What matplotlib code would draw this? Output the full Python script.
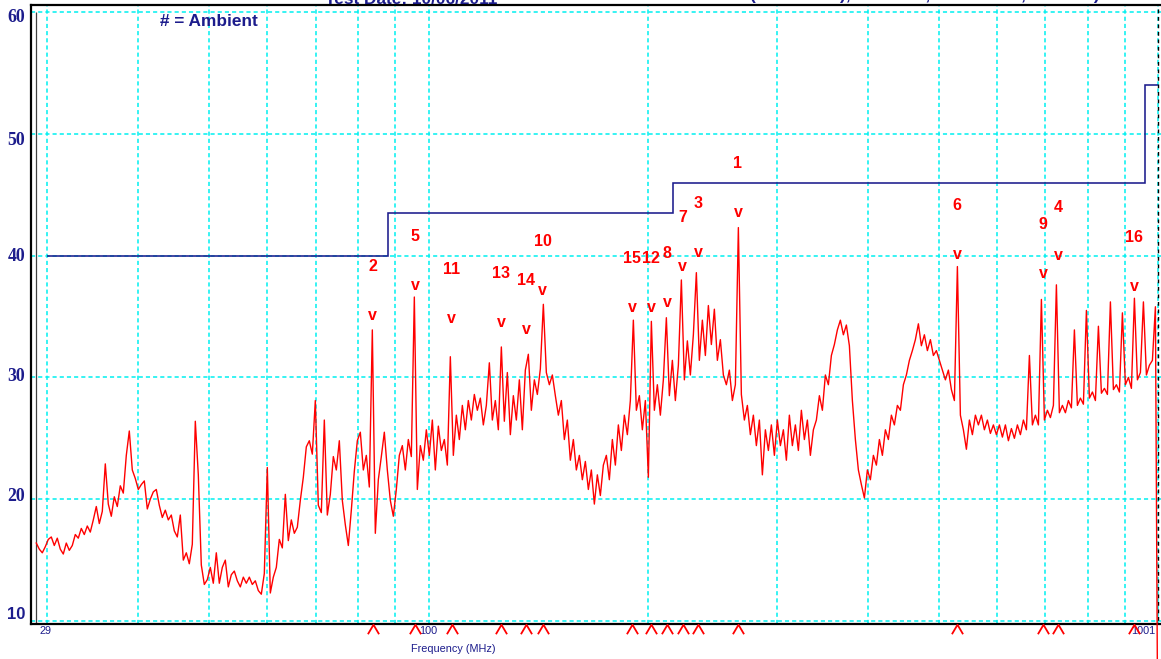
import numpy as np
import matplotlib
matplotlib.use("Agg")
import matplotlib.pyplot as plt
from matplotlib.path import Path
from matplotlib.transforms import ScaledTranslation, blended_transform_factory

# ---------------- data ----------------
# measured emission level (dBuV/m) on the receiver sweep, 29 MHz .. 1000 MHz
trace_db = [
    16.4, 15.9, 15.6, 16.1, 16.7, 16.9, 16.2, 16.8, 15.9, 15.5,
    16.4, 15.8, 16.2, 17.1, 16.8, 17.6, 17.1, 17.8, 17.3, 18.3,
    19.4, 18.0, 19.0, 22.9, 19.6, 18.6, 20.2, 19.4, 21.1, 20.5,
    23.6, 25.6, 22.4, 21.7, 20.8, 21.2, 21.5, 19.2, 20.0, 20.6,
    20.8, 19.5, 18.5, 19.1, 18.3, 18.7, 17.4, 16.9, 18.7, 15.0,
    15.6, 14.7, 16.3, 26.4, 22.0, 14.6, 13.0, 13.4, 14.4, 13.1,
    15.6, 13.1, 14.4, 15.0, 12.8, 13.8, 14.1, 13.3, 12.8, 13.6,
    13.1, 13.6, 13.0, 13.3, 12.5, 12.2, 13.9, 22.6, 12.3, 13.6,
    14.4, 16.7, 16.0, 20.4, 16.6, 18.3, 17.2, 17.7, 19.9, 21.8,
    24.3, 24.8, 23.7, 28.1, 19.5, 18.9, 26.5, 18.7, 20.4, 23.5,
    22.4, 24.8, 19.9, 17.9, 16.2, 19.1, 22.3, 24.8, 25.5, 22.4,
    23.6, 21.0, 33.9, 17.2, 21.6, 23.5, 25.5, 22.4, 19.9, 18.6,
    20.8, 23.6, 24.4, 22.4, 24.9, 23.5, 36.6, 20.8, 24.4, 23.2,
    25.7, 23.6, 26.5, 22.4, 26.0, 24.0, 24.9, 22.8, 31.7, 23.6,
    26.9, 24.9, 27.7, 25.7, 28.1, 26.5, 28.6, 27.3, 28.3, 26.1,
    27.7, 31.2, 26.5, 28.1, 25.7, 32.5, 26.4, 30.4, 25.3, 28.5,
    26.5, 29.8, 25.7, 30.6, 31.9, 27.3, 29.8, 28.6, 30.7, 36.0,
    30.4, 29.4, 30.2, 28.5, 26.9, 28.1, 24.9, 26.5, 23.2, 24.9,
    22.4, 23.6, 21.6, 23.1, 20.8, 22.4, 19.6, 22.0, 20.3, 22.8,
    23.6, 21.6, 24.9, 22.8, 26.1, 24.0, 26.9, 25.3, 28.1, 34.7,
    27.3, 28.5, 25.7, 28.1, 21.8, 34.6, 27.3, 29.4, 26.9, 29.8,
    34.9, 28.5, 31.4, 28.1, 31.0, 38.0, 29.8, 33.0, 30.2, 33.5,
    38.6, 31.4, 34.7, 31.8, 35.9, 32.7, 35.6, 31.4, 33.1, 30.2,
    29.4, 30.6, 28.1, 29.4, 42.3, 28.6, 26.5, 27.7, 25.3, 26.9,
    24.4, 26.5, 22.0, 25.7, 24.0, 26.1, 23.6, 26.5, 24.4, 25.7,
    23.2, 26.9, 24.4, 26.1, 24.0, 27.3, 24.9, 26.5, 23.6, 25.7,
    26.5, 28.5, 27.3, 30.2, 29.4, 31.8, 32.7, 33.9, 34.7, 33.5,
    34.3, 32.6, 28.1, 24.9, 22.4, 21.2, 20.1, 22.4, 21.6, 23.6,
    22.8, 24.9, 23.6, 25.7, 24.9, 26.9, 26.1, 27.7, 27.3, 29.4,
    30.2, 31.4, 32.2, 33.1, 34.4, 32.6, 33.5, 32.2, 33.1, 31.8,
    32.2, 31.4, 30.6, 29.8, 30.6, 29.0, 28.1, 39.1, 26.9, 25.7,
    24.1, 26.5, 25.3, 26.9, 26.1, 26.9, 25.7, 26.5, 25.4, 26.1,
    25.3, 26.1, 25.1, 26.1, 24.8, 25.8, 25.0, 26.1, 25.3, 26.5,
    25.7, 31.8, 26.1, 26.9, 26.1, 36.4, 26.5, 27.3, 26.7, 27.7,
    37.6, 27.1, 27.7, 27.1, 28.1, 27.5, 33.9, 27.7, 28.3, 27.8,
    35.5, 28.3, 28.8, 28.1, 34.2, 28.7, 29.1, 28.6, 36.2, 29.0,
    29.4, 28.8, 35.3, 29.4, 30.0, 29.1, 36.5, 29.8, 30.4, 36.2,
    30.2, 31.0, 31.4, 35.8, -10.0,
]
sweep_start_mhz = 29.0
sweep_stop_mhz = 1000.0

# limit line: band edges (MHz) and limit level in each band (dBuV/m)
limit_edges = [30, 88, 216, 960, 1000]
limit_levels = [40, 43.5, 46, 54]

# peak markers
marker_ids = [1, 2, 3, 4, 5, 6, 7, 8, 9, 10, 11, 12, 13, 14, 15, 16]
marker_freqs = [265.4, 83.8, 233.9, 728.5, 95.8, 529.8, 222.9, 212.1,
                694.9, 143.4, 107.6, 201.7, 125.7, 136.0, 190.0, 927.0]
marker_levels = [43.2, 34.7, 39.9, 39.6, 37.2, 39.7, 38.7, 35.8,
                 38.2, 36.8, 34.5, 35.4, 34.1, 33.6, 35.4, 37.1]

# axis labelling
grid_freqs = [30, 40, 50, 60, 70, 80, 90, 100,
              200, 300, 400, 500, 600, 700, 800, 900, 1000]
y_ticks = [10, 20, 30, 40, 50, 60]
x_tick_labels = ["29", "100", "1001"]
x_tick_values = [29, 100, 1000]
x_label = "Frequency (MHz)"
legend_note = "# = Ambient"
header_left = "Test Date: 10/06/2011"
header_right = "(Horizontal), 3 Meters, Peak Scan, Class B)"

# ---------------- style ----------------
NAVY = "#1c1c8c"
RED = "#ff0000"
CYAN = "#00f0f0"

W, H = 1161, 659
fig = plt.figure(figsize=(W / 100, H / 100), dpi=100)
ax = fig.add_axes([31 / W, 1 - 624 / H, (W - 31) / W, (624 - 5) / H])
ax.set_xscale("log")
ax.set_xlim(28.52, 1008.2)
ax.set_ylim(9.754, 60.575)

# grid
ax.set_xticks(grid_freqs)
ax.set_xticklabels([])
ax.xaxis.set_minor_locator(matplotlib.ticker.NullLocator())
ax.tick_params(axis="x", length=0)
ax.set_yticks(y_ticks)
ax.set_yticklabels([str(v) for v in y_ticks])
ax.tick_params(axis="y", length=0, pad=4)
ax.grid(True, color=CYAN, lw=1.1, linestyle=(0, (2.7, 2.0)), zorder=0)
ax.set_axisbelow(True)

# frame
for side in ("left", "bottom", "top"):
    ax.spines[side].set_linewidth(1.6)
    ax.spines[side].set_color("black")
ax.spines["right"].set_visible(False)
ax.vlines(29, 9.754, 60, color="#404040", lw=0.9, zorder=2)
ax.vlines(1000, 9.754, 60.575, color="black", lw=1.0,
          linestyles=[(2.7, (2.7, 2.7))], zorder=2)

# y tick labels: bold serif, last one bold sans, small vertical nudges (px, down +)
nudges = {10: -8.5, 20: -5, 30: -3, 40: -1, 50: 5, 60: 3.5}
for lab, v in zip(ax.get_yticklabels(), y_ticks):
    lab.set_color(NAVY)
    lab.set_fontweight("bold")
    if v == 10:
        lab.set_family("Liberation Sans")
        lab.set_fontsize(12)
    else:
        lab.set_family("Liberation Serif")
        lab.set_fontsize(12.8)
    lab.set_transform(lab.get_transform()
                      + ScaledTranslation(0, -nudges[v] / 100, fig.dpi_scale_trans))

# limit line
ax.stairs(limit_levels, limit_edges, baseline=None, color=NAVY, lw=1.15, zorder=3)

# measured trace
freqs = np.geomspace(sweep_start_mhz, sweep_stop_mhz, len(trace_db))
ax.plot(freqs, trace_db, color=RED, lw=1.0, zorder=4, clip_on=False)

# peak markers: "v" pointing at the level, id above it
for mid, f, lv in zip(marker_ids, marker_freqs, marker_levels):
    ax.text(f, lv, "v", color=RED, fontsize=11.5, fontweight="bold",
            family="Liberation Sans", ha="center", va="baseline", zorder=5)
    ax.annotate(str(mid), (f, lv), xytext=(0, 38.5), textcoords="offset points",
                color=RED, fontsize=11.5, fontweight="bold",
                family="Liberation Sans", ha="center", va="center", zorder=5)

# marker carets beneath the frequency axis
caret = Path([(-1.0, -0.85), (0.0, 0.85), (1.0, -0.85)],
             [Path.MOVETO, Path.LINETO, Path.LINETO])
bt = blended_transform_factory(ax.transData, ax.transAxes)
ax.plot(marker_freqs, [-0.0085] * len(marker_freqs), transform=bt,
        linestyle="none", marker=caret, markersize=8, markerfacecolor="none",
        markeredgecolor=RED, markeredgewidth=1.3, clip_on=False, zorder=6)

# frequency tick labels
aligns = ["left", "center", "right"]
x_offsets = [3.5, 0, -3]
for txt, v, ha, dx in zip(x_tick_labels, x_tick_values, aligns, x_offsets):
    ax.text(v, -0.004, txt, transform=bt + ScaledTranslation(dx / 100, 0, fig.dpi_scale_trans),
            ha=ha, va="top", color=NAVY, fontsize=7.8, family="Liberation Sans",
            clip_on=False)
fig.text(453 / W, 1 - 649 / H, x_label, ha="center", va="center",
         color=NAVY, fontsize=7.8, family="Liberation Sans")

# annotation note and header (header runs off the top edge of the page)
fig.text(160 / W, 1 - 21.5 / H, legend_note, ha="left", va="center",
         color=NAVY, fontsize=12.4, fontweight="bold", family="Liberation Sans")
fig.text(411 / W, 1 - 4 / H, header_left, ha="center", va="baseline",
         color=NAVY, fontsize=12.4, fontweight="bold", family="Liberation Sans")
fig.text(925 / W, 1.0, header_right, ha="center", va="baseline",
         color=NAVY, fontsize=12.4, fontweight="bold", family="Liberation Sans")

fig.savefig("out.png", dpi=100)
